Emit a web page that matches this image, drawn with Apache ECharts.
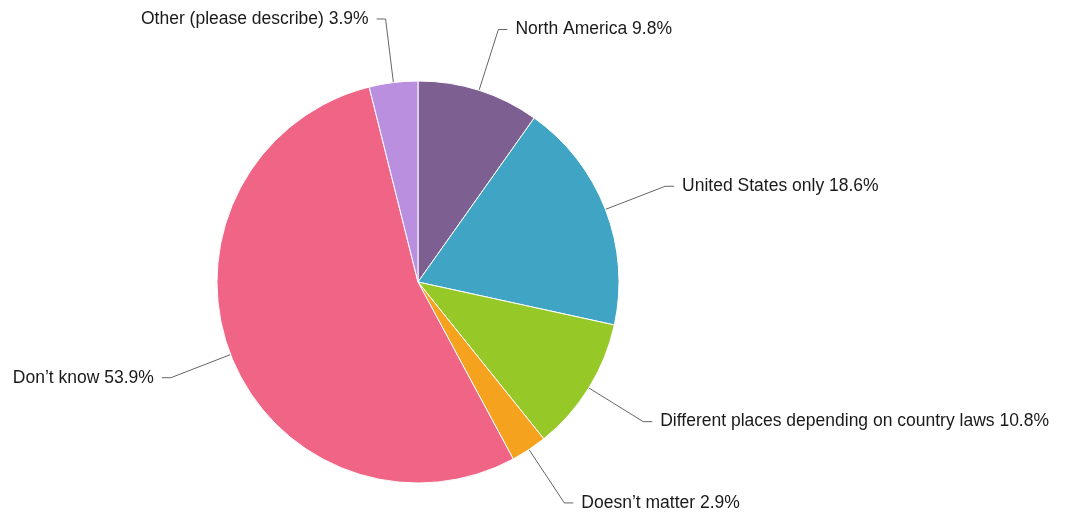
<!DOCTYPE html>
<html>
<head>
<meta charset="utf-8">
<script src="https://cdn.jsdelivr.net/npm/echarts@6/dist/echarts.min.js"></script>
<style>
  html, body { margin: 0; padding: 0; background: #fff; }
  #chart { width: 1066px; height: 517px; }
</style>
</head>
<body>
<div id="chart"></div>
<script>
// slices, clockwise from 12 o'clock
const categories = [
  'North America',
  'United States only',
  'Different places depending on country laws',
  'Doesn\u2019t matter',
  'Don\u2019t know',
  'Other (please describe)'
]
const values = [9.8, 18.6, 10.8, 2.9, 53.9, 3.9]
const colors = ['#7e5f92', '#40a4c4', '#96c928', '#f5a31f', '#f06485', '#bb8fe0']

const chart = echarts.init(document.getElementById('chart'))
chart.setOption({
  backgroundColor: '#fff',
  animation: false,
  series: [{
    type: 'pie',
    center: [418, 282],
    radius: 201,
    startAngle: 90,
    clockwise: true,
    avoidLabelOverlap: false,
    data: categories.map((name, i) => ({
      name: name,
      value: values[i],
      itemStyle: { color: colors[i] }
    })),
    itemStyle: {
      borderColor: '#fff',
      borderWidth: 1
    },
    label: {
      show: true,
      position: 'outside',
      formatter: p => p.name + ' ' + p.value.toFixed(1) + '%',
      fontFamily: 'Liberation Sans, Arial, sans-serif',
      fontSize: 17.5,
      color: '#1a1a1a',
      padding: [0, 3, 0, 3]
    },
    labelLine: {
      show: true,
      length: 64,
      length2: 9,
      smooth: false,
      lineStyle: { color: '#666', width: 1 }
    },
    emphasis: { disabled: true }
  }]
})
</script>
</body>
</html>
